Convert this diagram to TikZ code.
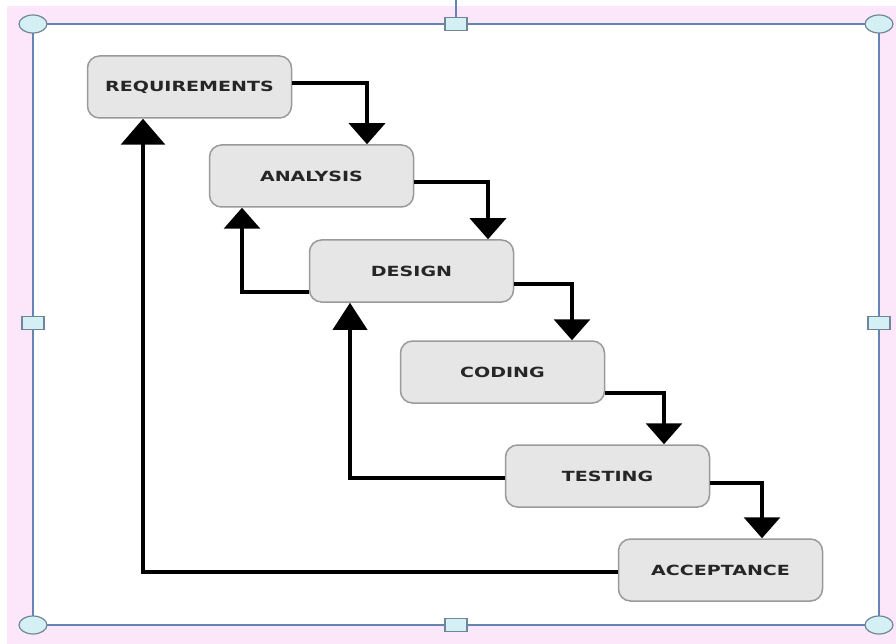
\documentclass[tikz,border=0pt]{standalone}
\usepackage{fontspec}
\usepackage{graphicx}
\usetikzlibrary{arrows.meta,shapes.geometric}
\newfontfamily\stagefont{DejaVu Sans}

\definecolor{pinkbg}{HTML}{FCE7FA}
\definecolor{framecol}{HTML}{6384B4}
\definecolor{handlefill}{HTML}{D5F0F4}
\definecolor{handledraw}{HTML}{6F8598}
\definecolor{boxfill}{HTML}{E6E6E6}
\definecolor{boxdraw}{HTML}{9A9A9A}
\definecolor{textcol}{HTML}{262626}

% stage label: bold caps, widened horizontally
\newcommand{\stagelabel}[1]{\scalebox{1.36}[1]{#1}}

\begin{document}
\begin{tikzpicture}[x=1pt,y=-1pt,
  stage/.style={draw=boxdraw, fill=boxfill, line width=1.5pt,
    rounded corners=12pt, minimum width=204pt, minimum height=62pt,
    inner sep=0pt, text=textcol,
    font=\stagefont\bfseries\fontsize{14}{16}\selectfont},
  flow/.style={line width=3.5pt, draw=black, line join=miter},
  fwd/.style={flow, -{Triangle[width=36pt,length=21pt]}},
  cornerhandle/.style={ellipse, draw=handledraw, fill=handlefill,
    line width=1.2pt, minimum width=28pt, minimum height=18pt, inner sep=0pt},
  sidehandle/.style={rectangle, draw=handledraw, fill=handlefill,
    line width=1.2pt, minimum width=22pt, minimum height=13pt, inner sep=0pt},
]
\useasboundingbox (0,0) rectangle (896,644);

% page and selection background
\fill[white] (0,0) rectangle (896,644);
\fill[pinkbg] (7,6) rectangle (896,644);
\fill[white] (33,24) rectangle (879,625);

% selection frame
\draw[framecol, line width=2pt] (33,24) rectangle (879,625);
\coordinate (stemtop) at (456,0);

% stages
\node[stage] (req) at (189.5,87)  {\stagelabel{REQUIREMENTS}};
\node[stage] (ana) at (311.5,176) {\stagelabel{ANALYSIS}};
\node[stage] (des) at (411.5,271) {\stagelabel{DESIGN}};
\node[stage] (cod) at (502.5,372) {\stagelabel{CODING}};
\node[stage] (tes) at (607.5,476) {\stagelabel{TESTING}};
\node[stage] (acc) at (720.5,570) {\stagelabel{ACCEPTANCE}};

% forward flow down the cascade
\draw[fwd] ([yshift=4pt]req.east)  -| ([xshift=55.5pt]ana.north);
\draw[fwd] ([yshift=-6pt]ana.east) -| ([xshift=76.5pt]des.north);
\draw[fwd] ([yshift=-13pt]des.east) -| ([xshift=69.5pt]cod.north);
\draw[fwd] ([yshift=-21pt]cod.east) -| ([xshift=56.5pt]tes.north);
\draw[fwd] ([yshift=-7pt]tes.east) -| ([xshift=41.5pt]acc.north);

% feedback loops
\draw[flow, -{Triangle[width=36pt,length=21pt]}]
  ([yshift=-21pt]des.west) -| ([xshift=-69.5pt]ana.south);
\draw[flow, -{Triangle[width=34pt,length=27pt]}]
  ([yshift=-2pt]tes.west) -| ([xshift=-61.5pt]des.south);
\draw[flow, -{Triangle[width=44pt,length=26pt]}]
  ([yshift=-2pt]acc.west) -| ([xshift=-46.5pt]req.south);

% selection handles
\node[sidehandle] (hn) at (456,24) {};
\draw[framecol, line width=2pt] (stemtop) -- (hn.north);
\node[sidehandle] (hs) at (456,625) {};
\node[sidehandle] (hw) at (33,323) {};
\node[sidehandle] (he) at (879,323) {};
\node[cornerhandle] (hnw) at (33,24) {};
\node[cornerhandle] (hne) at (879,24) {};
\node[cornerhandle] (hsw) at (33,625) {};
\node[cornerhandle] (hse) at (879,625) {};
\end{tikzpicture}
\end{document}
